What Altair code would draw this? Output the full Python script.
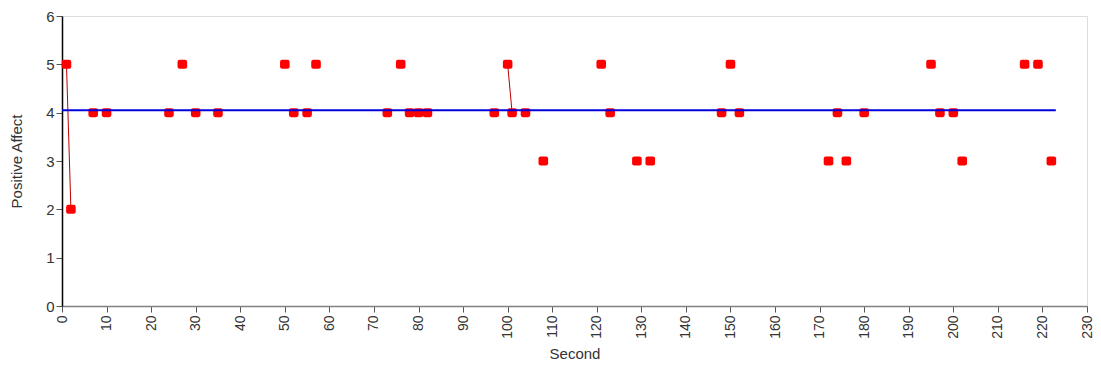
import altair as alt
import pandas as pd

# Data
seconds = [1, 2, 7, 10, 24, 27, 30, 35, 50, 52, 55, 57, 73, 76, 78, 80, 82, 97,
           100, 101, 104, 108, 121, 123, 129, 132, 148, 150, 152, 172, 174, 176,
           180, 195, 197, 200, 202, 216, 219, 222]
affect = [5, 2, 4, 4, 4, 5, 4, 4, 5, 4, 4, 5, 4, 5, 4, 4, 4, 4,
          5, 4, 4, 3, 5, 4, 3, 3, 4, 5, 4, 3, 4, 3,
          4, 5, 4, 4, 3, 5, 5, 3]
mean_line_seconds = [0, 223]
x_ticks = list(range(0, 231, 10))
y_ticks = [0, 1, 2, 3, 4, 5, 6]

df = pd.DataFrame({"sec": seconds, "val": affect})
# consecutive seconds are joined by a line; gaps break it
df["run"] = (df["sec"].diff().fillna(2) > 1).cumsum()
mean_value = float(df["val"].mean())
mean_df = pd.DataFrame({"sec": mean_line_seconds, "val": [mean_value] * len(mean_line_seconds)})

FONT = "Liberation Sans"
x_scale = alt.Scale(domain=[0, 230], nice=False, zero=False)
y_scale = alt.Scale(domain=[0, 6], nice=False)

x_axis = alt.Axis(title="Second", values=x_ticks, labelAngle=-90, grid=False,
                  domainColor="#808080", domainWidth=1.5, tickColor="#555555", tickSize=6,
                  labelPadding=3, titlePadding=8, labelFontSize=14, titleFontSize=15,
                  labelColor="#333333", titleColor="#333333", labelFont=FONT, titleFont=FONT,
                  titleFontWeight="normal", labelOverlap=False, labelFlush=False)
y_axis = alt.Axis(title="Positive Affect", values=y_ticks, grid=False,
                  domainColor="#000000", domainWidth=1.5, tickColor="#555555", tickSize=6,
                  labelPadding=2, titlePadding=21, labelFontSize=15, titleFontSize=15,
                  labelColor="#333333", titleColor="#333333", labelFont=FONT, titleFont=FONT,
                  titleFontWeight="normal", labelFlush=False)

rounded_square = ("M-1,-0.5Q-1,-0.93,-0.55,-0.93L0.55,-0.93Q1,-0.93,1,-0.5"
                  "L1,0.5Q1,0.93,0.55,0.93L-0.55,0.93Q-1,0.93,-1,0.5Z")

base = alt.Chart(df)

links = base.mark_line(color="#c00000", strokeWidth=1).encode(
    x=alt.X("sec:Q", scale=x_scale, axis=x_axis),
    y=alt.Y("val:Q", scale=y_scale, axis=y_axis),
    detail="run:N",
)

points = base.mark_point(filled=True, shape=rounded_square, size=92,
                         color="#ff0000", opacity=1).encode(
    x=alt.X("sec:Q", scale=x_scale),
    y=alt.Y("val:Q", scale=y_scale),
)

mean_line = alt.Chart(mean_df).mark_line(color="#0000dd", strokeWidth=2).encode(
    x=alt.X("sec:Q", scale=x_scale),
    y=alt.Y("val:Q", scale=y_scale),
)

chart = alt.layer(links, points, mean_line).properties(
    width=1025, height=290,
    autosize=alt.AutoSizeParams(type="none"),
    padding={"left": 54, "top": 8, "right": 6, "bottom": 56},
).configure_view(stroke="#808080", strokeWidth=1.5).configure(background="white")

chart.save("out.html", embed_options={"renderer": "svg", "actions": False})
